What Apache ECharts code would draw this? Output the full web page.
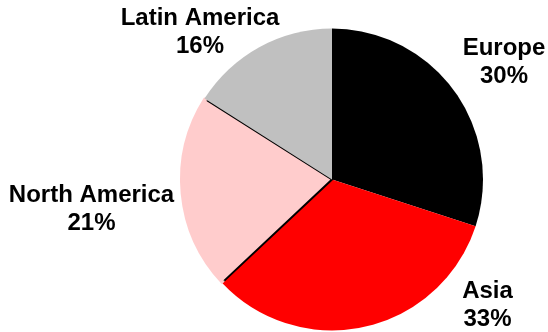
<!DOCTYPE html>
<html>
<head>
<meta charset="utf-8">
<script src="https://cdn.jsdelivr.net/npm/echarts@6/dist/echarts.min.js"></script>
<style>
  html, body { margin: 0; padding: 0; background: #fff; }
  #chart { width: 548px; height: 332px; }
</style>
</head>
<body>
<div id="chart"></div>
<script>
// Regional share of the total, in percent
const regions = ['Europe', 'Asia', 'North America', 'Latin America'];
const shares = [30, 33, 21, 16];
const sliceColors = ['#000000', '#ff0000', '#ffcccc', '#c0c0c0'];

// Pie geometry (px)
const CX = 332, CY = 179.5, R = 151;
// Label block centres, relative to the pie centre
const labelOffsets = [[172, -117.5], [155.5, 125.5], [-240.5, 30], [-132, -147.5]];

// Black stroke on the radial edges of a slice, turning to the slice colour at the rim
function edgeStroke(fill) {
  return {
    type: 'radial', x: CX, y: CY, r: R + 2, global: true,
    colorStops: [
      { offset: 0, color: '#000' },
      { offset: 0.962, color: '#000' },
      { offset: 0.972, color: fill },
      { offset: 1, color: fill }
    ]
  };
}

const chart = echarts.init(document.getElementById('chart'), null, { renderer: 'canvas' });

const data = regions.map((name, i) => {
  const item = { name: name, value: shares[i], itemStyle: { color: sliceColors[i] } };
  if (name === 'North America') {
    item.itemStyle.borderColor = edgeStroke(sliceColors[i]);
    item.itemStyle.borderWidth = 2;
  }
  return item;
});

chart.setOption({
  animation: false,
  backgroundColor: '#ffffff',
  series: [{
    type: 'pie',
    center: [CX, CY],
    radius: [0, R],
    startAngle: 90,
    clockwise: true,
    silent: true,
    avoidLabelOverlap: false,
    data: data,
    itemStyle: { borderWidth: 0 },
    label: {
      show: true,
      position: 'outside',
      formatter: p => p.name + '\n' + p.value + '%',
      fontFamily: '"Liberation Sans", Arial, sans-serif',
      fontWeight: 'bold',
      fontSize: 24,
      lineHeight: 28,
      color: '#000',
      align: 'center',
      overflow: 'none',
      width: 220
    },
    labelLine: { show: false },
    labelLayout: params => {
      const off = labelOffsets[params.dataIndex];
      return { x: CX + off[0], y: CY + off[1], align: 'center', verticalAlign: 'middle' };
    }
  }]
});
</script>
</body>
</html>
